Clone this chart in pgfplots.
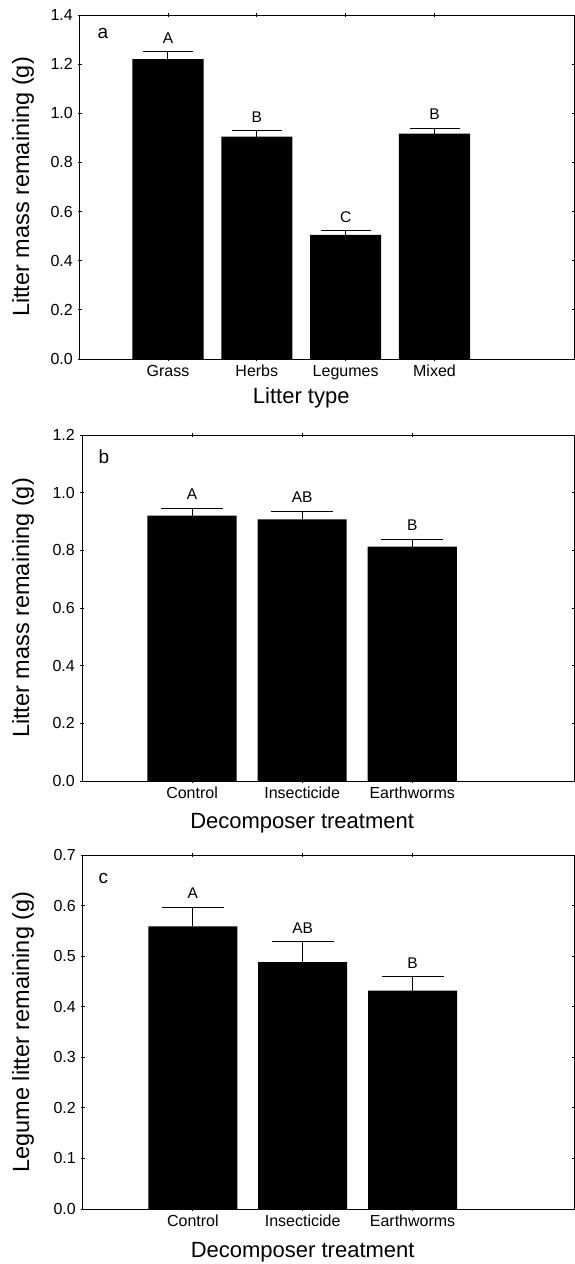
\documentclass[border=0pt]{standalone}
\usepackage{fontspec}
\setmainfont{Liberation Sans}
\usepackage{pgfplots}
\usepackage{pgfplotstable}
\pgfplotsset{compat=1.18}

% mean, upper error, letter for each panel
\pgfplotstableread{
x y e lab
0 1.220 0.030 A
1 0.905 0.023 B
2 0.505 0.018 C
3 0.917 0.023 B
}\dataA
\pgfplotstableread{
x y e lab
0 0.920 0.026 A
1 0.907 0.028 AB
2 0.813 0.025 B
}\dataB
\pgfplotstableread{
x y e lab
0 0.559 0.038 A
1 0.488 0.040 AB
2 0.432 0.028 B
}\dataC

\pgfplotsset{
  panel/.style={
    scale only axis,
    anchor=north west,
    clip=false,
    axis line style={line width=1pt, black},
    tick style={line width=0.8pt, black},
    major tick length=4pt,
    tick align=center,
    ymin=0,
    /pgf/number format/assume math mode=true,
    every tick label/.append style={font=\fontsize{16}{19}\selectfont, inner sep=0pt},
    yticklabel style={xshift=-5pt, /pgf/number format/fixed,
      /pgf/number format/fixed zerofill, /pgf/number format/precision=1},
    xticklabel style={yshift=-4pt},
    xlabel style={font=\fontsize{22}{26}\selectfont},
    ylabel style={font=\fontsize{23.5}{28}\selectfont},
    every axis y label/.append style={at={(axis description cs:0,0.5)}, anchor=center},
    every axis x label/.append style={anchor=center},
  },
  bars/.style={
    ybar, bar shift=0pt, fill=black, draw=none,
    error bars/.cd, y dir=plus, y explicit,
    error bar style={line width=1pt, black},
    error mark options={rotate=90, mark size=#1, line width=1pt, black},
  },
  letters/.style={
    only marks, mark=*, mark size=0pt, mark options={draw=none, fill=none},
    nodes near coords, point meta=explicit symbolic,
    nodes near coords style={anchor=south, inner sep=0pt, yshift=#1,
      font=\fontsize{15.5}{18}\selectfont},
  },
}

\begin{document}
\begin{tikzpicture}
\path[use as bounding box] (0,0) rectangle (575pt,-1264pt);

% panel a
\begin{axis}[panel, at={(80pt,-15pt)}, width=494pt, height=344pt,
    xmin=-0.99, xmax=4.57, ymax=1.4,
    xtick={0,1,2,3}, xticklabels={Grass,Herbs,Legumes,Mixed},
    ytick={0,0.2,...,1.4},
    xlabel={Litter type}, ylabel={Litter mass remaining (g)},
    xlabel style={at={(axis cs:1.5,0)}, yshift=-39pt},
    ylabel style={yshift=57pt}]
\addplot[bar width=0.8, bars=25pt] table[x=x, y=y, y error=e] {\dataA};
\addplot[letters=8pt] table[x=x, y expr=\thisrow{y}+\thisrow{e}, meta=lab] {\dataA};
\node[anchor=base west, font=\fontsize{19}{22}\selectfont] at (rel axis cs:0,1) [xshift=14pt, yshift=-23pt] {a};
\end{axis}

% panel b
\begin{axis}[panel, at={(82pt,-435pt)}, width=492pt, height=346pt,
    xmin=-1, xmax=3.47, ymax=1.2,
    xtick={0,1,2}, xticklabels={Control,Insecticide,Earthworms},
    ytick={0,0.2,...,1.2},
    xlabel={Decomposer treatment}, ylabel={Litter mass remaining (g)},
    xlabel style={at={(axis cs:1,0)}, yshift=-42pt},
    ylabel style={yshift=59pt}]
\addplot[bar width=0.81, bars=31pt] table[x=x, y=y, y error=e] {\dataB};
\addplot[letters=9pt] table[x=x, y expr=\thisrow{y}+\thisrow{e}, meta=lab] {\dataB};
\node[anchor=base west, font=\fontsize{19}{22}\selectfont] at (rel axis cs:0,1) [xshift=13pt, yshift=-28pt] {b};
\end{axis}

% panel c
\begin{axis}[panel, at={(83pt,-855pt)}, width=491pt, height=354pt,
    xmin=-1, xmax=3.47, ymax=0.7,
    xtick={0,1,2}, xticklabels={Control,Insecticide,Earthworms},
    ytick={0,0.1,...,0.7},
    xlabel={Decomposer treatment}, ylabel={Legume litter remaining (g)},
    xlabel style={at={(axis cs:1,0)}, yshift=-43pt},
    ylabel style={yshift=60pt}]
\addplot[bar width=0.81, bars=31pt] table[x=x, y=y, y error=e] {\dataC};
\addplot[letters=8pt] table[x=x, y expr=\thisrow{y}+\thisrow{e}, meta=lab] {\dataC};
\node[anchor=base west, font=\fontsize{19}{22}\selectfont] at (rel axis cs:0,1) [xshift=12pt, yshift=-28pt] {c};
\end{axis}
\end{tikzpicture}
\end{document}
